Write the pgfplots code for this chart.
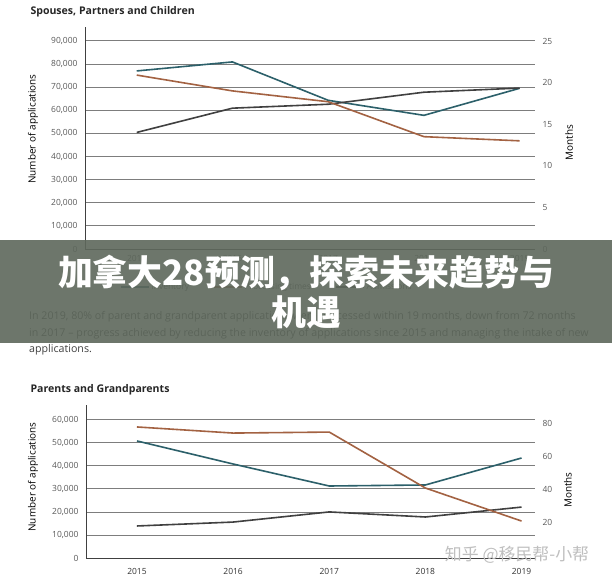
\documentclass[border=0pt]{standalone}
\usepackage{fontspec}
\setmainfont{Open Sans}
\newfontfamily\cjk{Noto Sans CJK SC}
\usepackage{pgfplots}
\pgfplotsset{compat=1.18}
\definecolor{cInv}{RGB}{44,96,106}
\definecolor{cProc}{RGB}{163,98,66}
\definecolor{cAdm}{RGB}{64,64,64}
\definecolor{banner}{RGB}{94,104,92}
\definecolor{gridc}{RGB}{125,125,125}
\pgfplotsset{
  base/.style={
    anchor=south west, scale only axis,
    major tick length=0, scaled y ticks=false, scaled x ticks=false,
    tick label style={font=\fontsize{8.5}{10}\selectfont, text=black!65},
    label style={font=\fontsize{7.2}{9}\selectfont, text=black!70},
  },
  leftax/.style={base,
    axis x line*=bottom, axis y line*=left,
    axis line style={-, draw=black!75, line width=0.8bp},
    ymajorgrids, grid style={draw=gridc, line width=0.8bp},
    xtick={0,1,2,3,4}, xticklabels={2015,2016,2017,2018,2019},
    yticklabel style={anchor=east, xshift=-4bp},
  },
  rightax/.style={base,
    hide x axis, axis y line*=right,
    y axis line style={draw=none},
    yticklabel style={anchor=west, xshift=4bp},
  },
}
\begin{document}
\begin{tikzpicture}
\path[use as bounding box] (0,0) rectangle (612bp,-585bp);
\clip (0,0) rectangle (612bp,-585bp);
\fill[white] (0,0) rectangle (612bp,-585bp);

% ---------- Top chart ----------
\node[anchor=west, font=\bfseries\fontsize{10.6}{12}\selectfont, text=black!85] at (27bp,-12bp) {Spouses, Partners and Children};

\begin{axis}[leftax, at={(85bp,-249bp)}, width=450bp, height=222bp,
  xmin=-0.54, xmax=4.16, ymin=0, ymax=96000,
  ytick={0,10000,20000,30000,40000,50000,60000,70000,80000,90000},
  yticklabels={0,{10,000},{20,000},{30,000},{40,000},{50,000},{60,000},{70,000},{80,000},{90,000}},
  xticklabel style={yshift=-3bp},
  ylabel={Number of applications},
  every axis y label/.style={at={(rel axis cs:-0.1156,0.54)}, rotate=90, anchor=center},
  legend columns=3,
  legend style={at={(rel axis cs:0.404,-0.171)}, anchor=center, draw=none, fill=none,
    font=\fontsize{8.5}{10}\selectfont, text=black!70,
    /tikz/every even column/.append style={column sep=22bp}},
  legend image code/.code={\draw[#1] (0bp,0bp) -- (28bp,0bp);},
]
\addplot[cInv, line width=1.6bp] coordinates {(0,77000) (1,80900) (2,64300) (3,57800) (4,69500)};
\addlegendentry{Inventory}
\addlegendimage{cProc, line width=1.6bp}
\addlegendentry{Processing times}
\addplot[cAdm, line width=1.6bp] coordinates {(0,50400) (1,60900) (2,62600) (3,67800) (4,69600)};
\addlegendentry{Admissions}
\end{axis}

\begin{axis}[rightax, at={(85bp,-249bp)}, width=450bp, height=222bp,
  xmin=-0.54, xmax=4.16, ymin=0, ymax=26.68,
  ytick={0,5,10,15,20,25}, yticklabels={0,5,10,15,20,25},
  ylabel={Months},
  every axis y label/.style={at={(rel axis cs:1.0756,0.48)}, rotate=90, anchor=center},
]
\addplot[cProc, line width=1.6bp] coordinates {(0,20.9) (1,19.0) (2,17.7) (3,13.5) (4,13.0)};
\end{axis}

% ---------- Paragraph ----------
\begin{scope}[every node/.style={anchor=west, font=\fontsize{10.7}{12}\selectfont, text=black!75, inner sep=0pt}]
\node at (29bp,-317bp) {In 2019, 80\% of parent and grandparent applications were processed within 19 months, down from 72 months};
\node at (29bp,-334bp) {in 2017 -- progress achieved by reducing the inventory of applications since 2015 and managing the intake of new};
\node at (29bp,-350bp) {applications.};
\end{scope}

% ---------- Bottom chart ----------
\node[anchor=west, font=\bfseries\fontsize{10.6}{12}\selectfont, text=black!85] at (27bp,-390bp) {Parents and Grandparents};

\begin{axis}[leftax, at={(86bp,-558bp)}, width=449bp, height=153bp,
  xmin=-0.53, xmax=4.14, ymin=0, ymax=66400,
  ytick={0,10000,20000,30000,40000,50000,60000},
  yticklabels={0,{10,000},{20,000},{30,000},{40,000},{50,000},{60,000}},
  xticklabel style={yshift=-7bp, text=black!80},
  ylabel={Number of applications},
  every axis y label/.style={at={(rel axis cs:-0.118,0.53)}, rotate=90, anchor=center},
]
\addplot[cInv, line width=1.6bp] coordinates {(0,50800) (1,40800) (2,31250) (3,31700) (4,43400)};
\addplot[cAdm, line width=1.6bp] coordinates {(0,13900) (1,15600) (2,20000) (3,17800) (4,22100)};
\end{axis}

\begin{axis}[rightax, at={(86bp,-558bp)}, width=449bp, height=153bp,
  xmin=-0.53, xmax=4.14, ymin=-1.8, ymax=90.9,
  ytick={20,40,60,80}, yticklabels={20,40,60,80},
  ylabel={Months},
  every axis y label/.style={at={(rel axis cs:1.0735,0.444)}, rotate=90, anchor=center},
]
\addplot[cProc, line width=1.6bp] coordinates {(0,77.6) (1,73.9) (2,74.5) (3,40.6) (4,20.6)};
\end{axis}

% ---------- Watermark ----------
\node[font=\cjk\fontsize{17}{20}\selectfont, text=black!25] at (517bp,-555bp) {知乎 @移民帮-小帮};

% ---------- Banner ----------
\fill[banner, fill opacity=0.9] (0,-240bp) rectangle (612bp,-343bp);
\node[align=center, text=white, font=\cjk\bfseries\fontsize{35}{40}\selectfont] at (306bp,-292bp) {加拿大28预测，探索未来趋势与\\机遇};
\end{tikzpicture}
\end{document}
